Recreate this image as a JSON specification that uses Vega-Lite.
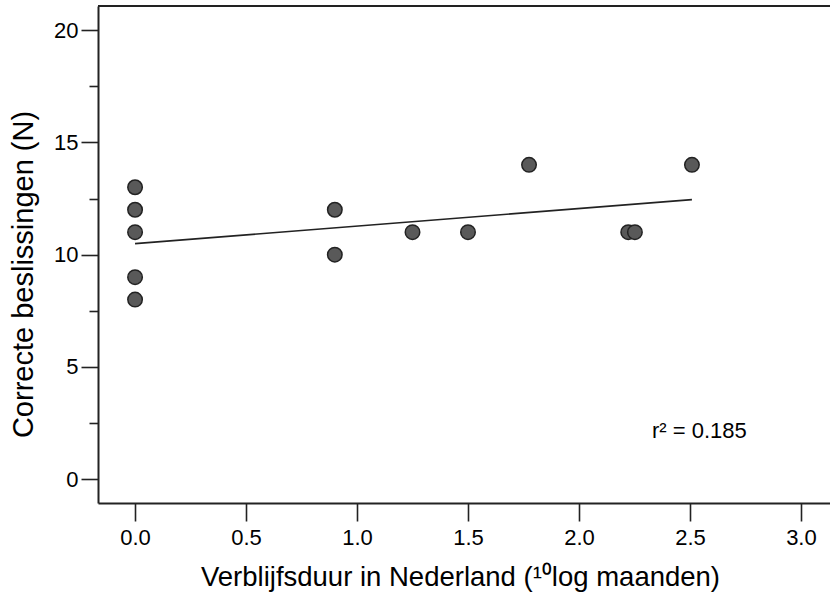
{
  "$schema": "https://vega.github.io/schema/vega-lite/v6.json",
  "width": 732,
  "height": 497,
  "autosize": "none",
  "padding": {"left": 98, "top": 6, "right": 0, "bottom": 95},
  "background": "white",
  "config": {
    "view": {"stroke": null},
    "font": "Liberation Sans",
    "axis": {
      "domainColor": "#222222",
      "domainWidth": 2,
      "tickColor": "#222222",
      "tickWidth": 1.6,
      "labelColor": "#000000",
      "labelFont": "Liberation Sans",
      "labelFontSize": 22,
      "titleFont": "Liberation Sans",
      "titleFontWeight": "normal",
      "titleColor": "#000000",
      "grid": false
    }
  },
  "datasets": {
    "pts": [
      {"x": 0, "y": 13}, {"x": 0, "y": 12}, {"x": 0, "y": 11}, {"x": 0, "y": 9}, {"x": 0, "y": 8},
      {"x": 0.9, "y": 12}, {"x": 0.9, "y": 10}, {"x": 1.25, "y": 11}, {"x": 1.5, "y": 11},
      {"x": 1.775, "y": 14}, {"x": 2.222, "y": 11}, {"x": 2.252, "y": 11}, {"x": 2.509, "y": 14}
    ],
    "fit": [{"x": 0, "y": 10.49}, {"x": 2.509, "y": 12.45}],
    "top": [{"y": 21.07}],
    "ann": [{"x": 2.329, "y": 1.84, "t": "r² = 0.185"}]
  },
  "layer": [
    {
      "data": {"name": "fit"},
      "mark": {"type": "line", "color": "#222222", "strokeWidth": 1.6},
      "encoding": {
        "x": {
          "field": "x", "type": "quantitative",
          "scale": {"domain": [-0.167, 3.131], "nice": false, "zero": false},
          "axis": {
            "values": [0, 0.5, 1, 1.5, 2, 2.5, 3],
            "format": ".1f",
            "tickSize": 18,
            "labelPadding": 6,
            "titleFontSize": 27.5,
            "titleX": 362,
            "titleY": 82,
            "titleAlign": "center",
            "titleBaseline": "alphabetic",
            "title": "Verblijfsduur in Nederland (¹⁰log maanden)"
          }
        },
        "y": {
          "field": "y", "type": "quantitative",
          "scale": {"domain": [-1.055, 21.07], "nice": false, "zero": false},
          "axis": {
            "values": [0, 2.5, 5, 7.5, 10, 12.5, 15, 17.5, 20],
            "format": "d",
            "labelExpr": "datum.value % 5 === 0 ? datum.label : ''",
            "tickSize": {"condition": {"test": "datum.value % 5 !== 0", "value": 9}, "value": 17},
            "labelPadding": 3,
            "titleFontSize": 29,
            "titleX": -66,
            "titleY": 268,
            "titleAngle": 270,
            "titleAlign": "center",
            "titleBaseline": "alphabetic",
            "title": "Correcte beslissingen (N)"
          }
        }
      }
    },
    {
      "data": {"name": "pts"},
      "mark": {"type": "point", "filled": true, "fill": "#595959", "stroke": "#222222", "strokeWidth": 1.5, "opacity": 1, "size": 210},
      "encoding": {
        "x": {"field": "x", "type": "quantitative"},
        "y": {"field": "y", "type": "quantitative"}
      }
    },
    {
      "data": {"name": "top"},
      "mark": {"type": "rule", "color": "#222222", "strokeWidth": 2},
      "encoding": {"y": {"field": "y", "type": "quantitative"}}
    },
    {
      "data": {"name": "ann"},
      "mark": {"type": "text", "align": "left", "baseline": "alphabetic", "fontSize": 22, "font": "Liberation Sans", "color": "#000000"},
      "encoding": {
        "x": {"field": "x", "type": "quantitative"},
        "y": {"field": "y", "type": "quantitative"},
        "text": {"field": "t"}
      }
    }
  ]
}
